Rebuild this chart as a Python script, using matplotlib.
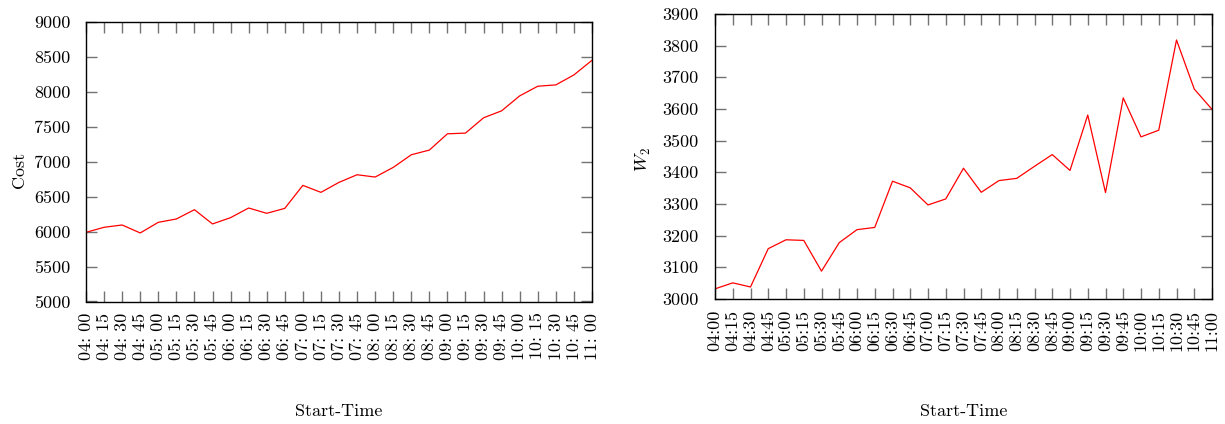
import matplotlib
matplotlib.use("Agg")
import matplotlib.pyplot as plt
import numpy as np

plt.rcParams['font.family'] = ['cmr10', 'DejaVu Serif']
plt.rcParams['mathtext.fontset'] = 'cm'
plt.rcParams['axes.unicode_minus'] = False
plt.rcParams['axes.formatter.use_mathtext'] = True

times = ["04:00", "04:15", "04:30", "04:45", "05:00", "05:15", "05:30", "05:45",
         "06:00", "06:15", "06:30", "06:45", "07:00", "07:15", "07:30", "07:45",
         "08:00", "08:15", "08:30", "08:45", "09:00", "09:15", "09:30", "09:45",
         "10:00", "10:15", "10:30", "10:45", "11:00"]

cost = [5990, 6062, 6095, 5981, 6133, 6181, 6314, 6110, 6200, 6338, 6262, 6333,
        6662, 6562, 6705, 6814, 6781, 6919, 7100, 7167, 7400, 7410, 7629, 7729,
        7943, 8081, 8100, 8243, 8452]

w2 = [3032, 3051, 3038, 3159, 3187, 3185, 3088, 3178, 3219, 3226, 3372, 3351,
      3297, 3316, 3413, 3337, 3374, 3381, 3419, 3456, 3406, 3581, 3336, 3635,
      3512, 3533, 3818, 3663, 3599]

cost_ticks = [5000, 5500, 6000, 6500, 7000, 7500, 8000, 8500, 9000]
w2_ticks = [3000, 3100, 3200, 3300, 3400, 3500, 3600, 3700, 3800, 3900]

W, H = 1225, 424
fig = plt.figure(figsize=(W / 100, H / 100), dpi=100)

def px_axes(x0, x1, ytop, ybot):
    return fig.add_axes([x0 / W, 1 - ybot / H, (x1 - x0) / W, (ybot - ytop) / H])

ax1 = px_axes(86, 592, 22, 301.5)
ax2 = px_axes(715, 1212, 14, 299)

x = np.arange(len(times))

def style(ax, yticks, labels, ylabel, ylx, yly, xly, ypad):
    ax.set_xlim(0, len(times) - 1)
    ax.set_ylim(yticks[0], yticks[-1])
    ax.set_xticks(x)
    ax.set_xticklabels(labels, rotation=90, fontsize=13)
    ax.set_yticks(yticks)
    ax.set_yticklabels([str(t) for t in yticks], fontsize=13)
    ax.tick_params(axis='both', which='major', direction='in', length=8,
                   width=1, color='0.45', top=True, right=True)
    ax.tick_params(axis='y', pad=ypad)
    ax.tick_params(axis='x', pad=8)
    for s in ax.spines.values():
        s.set_linewidth(1.0)
        s.set_color('black')
    ax.set_xlabel('Start-Time', fontsize=13)
    ax.xaxis.set_label_coords(0.5, xly)
    ax.set_ylabel(ylabel, fontsize=13)
    ax.yaxis.set_label_coords(ylx, yly)

ax1.plot(x, cost, color='red', linewidth=0.9)
ax2.plot(x, w2, color='red', linewidth=0.9)

style(ax1, cost_ticks, [t.replace(':', ': ') for t in times], 'Cost',
      -0.117, 0.47, -0.367, 11)
style(ax2, w2_ticks, times, r'$W_2$', -0.125, 0.488, -0.368, 12)

fig.savefig('out.png', dpi=100)
